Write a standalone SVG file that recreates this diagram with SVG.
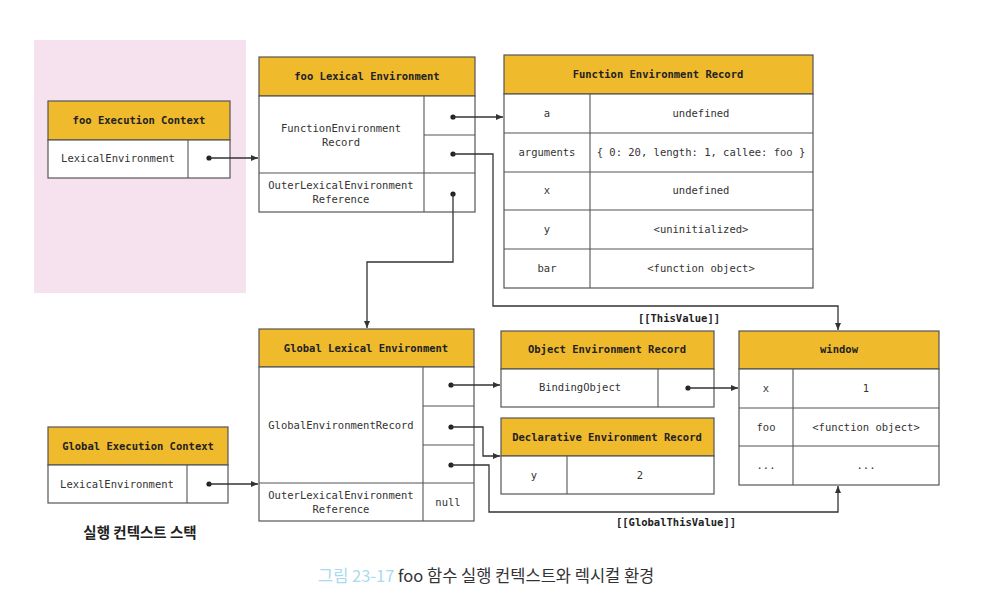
<svg xmlns="http://www.w3.org/2000/svg" width="986" height="604" viewBox="0 0 986 604">
<defs>
<marker id="ah" markerWidth="8" markerHeight="8" refX="7" refY="4" orient="auto" markerUnits="userSpaceOnUse">
<path d="M0,1 L7,4 L0,7 Z" fill="#333"/>
</marker>
<style>
.box{fill:#fff;stroke:#555;stroke-width:1.2}
.hd{fill:#f0ba2d;stroke:#555;stroke-width:1.2}
.ln{stroke:#555;stroke-width:1.1;fill:none}
.ht{font-family:"DejaVu Sans Mono","Liberation Mono",monospace;font-size:10.5px;font-weight:bold;fill:#222;text-anchor:middle}
.t{font-family:"DejaVu Sans Mono","Liberation Mono",monospace;font-size:10.5px;fill:#333;text-anchor:middle}
.c{stroke:#333;stroke-width:1.3;fill:none}
.dot{fill:#222}
</style>
</defs>
<rect width="986" height="604" fill="#fff"/>
<rect x="34" y="40" width="212" height="253" fill="#f6e2ee"/>

<g id="fooEC">
<rect class="hd" x="48" y="101" width="182" height="39"/>
<rect class="box" x="48" y="140" width="182" height="38"/>
<line class="ln" x1="188" y1="140" x2="188" y2="178"/>
<text class="ht" x="139" y="124">foo Execution Context</text>
<text class="t" x="118" y="162">LexicalEnvironment</text>
</g>

<g id="fooLE">
<rect class="hd" x="259" y="57" width="216" height="39"/>
<rect class="box" x="259" y="96" width="216" height="116"/>
<line class="ln" x1="259" y1="173" x2="475" y2="173"/>
<line class="ln" x1="424" y1="96" x2="424" y2="212"/>
<line class="ln" x1="424" y1="135" x2="475" y2="135"/>
<text class="ht" x="367" y="80">foo Lexical Environment</text>
<text class="t" x="341" y="132">FunctionEnvironment</text>
<text class="t" x="341" y="146">Record</text>
<text class="t" x="341" y="189">OuterLexicalEnvironment</text>
<text class="t" x="341" y="203">Reference</text>
</g>

<g id="fer">
<rect class="hd" x="504" y="55" width="309" height="39"/>
<rect class="box" x="504" y="94" width="309" height="194"/>
<line class="ln" x1="590" y1="94" x2="590" y2="288"/>
<line class="ln" x1="504" y1="133" x2="813" y2="133"/>
<line class="ln" x1="504" y1="172" x2="813" y2="172"/>
<line class="ln" x1="504" y1="210" x2="813" y2="210"/>
<line class="ln" x1="504" y1="249" x2="813" y2="249"/>
<text class="ht" x="658" y="78">Function Environment Record</text>
<text class="t" x="547" y="117">a</text>
<text class="t" x="701" y="117">undefined</text>
<text class="t" x="547" y="156">arguments</text>
<text class="t" x="701" y="156">{ 0: 20, length: 1, callee: foo }</text>
<text class="t" x="547" y="194">x</text>
<text class="t" x="701" y="194">undefined</text>
<text class="t" x="547" y="233">y</text>
<text class="t" x="701" y="233">&lt;uninitialized&gt;</text>
<text class="t" x="547" y="272">bar</text>
<text class="t" x="701" y="272">&lt;function object&gt;</text>
</g>

<g id="globalLE">
<rect class="hd" x="259" y="329" width="215" height="38"/>
<rect class="box" x="259" y="367" width="215" height="154"/>
<line class="ln" x1="259" y1="483" x2="474" y2="483"/>
<line class="ln" x1="423" y1="367" x2="423" y2="521"/>
<line class="ln" x1="423" y1="406" x2="474" y2="406"/>
<line class="ln" x1="423" y1="445" x2="474" y2="445"/>
<text class="ht" x="366" y="352">Global Lexical Environment</text>
<text class="t" x="341" y="429">GlobalEnvironmentRecord</text>
<text class="t" x="341" y="499">OuterLexicalEnvironment</text>
<text class="t" x="341" y="513">Reference</text>
<text class="t" x="448" y="506">null</text>
</g>

<g id="oer">
<rect class="hd" x="501" y="331" width="213" height="38"/>
<rect class="box" x="501" y="369" width="213" height="38"/>
<line class="ln" x1="658" y1="369" x2="658" y2="407"/>
<text class="ht" x="607" y="353">Object Environment Record</text>
<text class="t" x="580" y="391">BindingObject</text>
</g>

<g id="der">
<rect class="hd" x="501" y="418" width="213" height="38"/>
<rect class="box" x="501" y="456" width="213" height="38"/>
<line class="ln" x1="567" y1="456" x2="567" y2="494"/>
<text class="ht" x="607" y="441">Declarative Environment Record</text>
<text class="t" x="534" y="479">y</text>
<text class="t" x="640" y="479">2</text>
</g>

<g id="window">
<rect class="hd" x="739" y="331" width="200" height="38"/>
<rect class="box" x="739" y="369" width="200" height="116"/>
<line class="ln" x1="793" y1="369" x2="793" y2="485"/>
<line class="ln" x1="739" y1="408" x2="939" y2="408"/>
<line class="ln" x1="739" y1="446" x2="939" y2="446"/>
<text class="ht" x="839" y="353">window</text>
<text class="t" x="766" y="392">x</text>
<text class="t" x="866" y="392">1</text>
<text class="t" x="766" y="431">foo</text>
<text class="t" x="866" y="431">&lt;function object&gt;</text>
<text class="t" x="766" y="469">...</text>
<text class="t" x="866" y="469">...</text>
</g>

<g id="globalEC">
<rect class="hd" x="48" y="427" width="180" height="38"/>
<rect class="box" x="48" y="465" width="180" height="38"/>
<line class="ln" x1="187" y1="465" x2="187" y2="503"/>
<text class="ht" x="138" y="450">Global Execution Context</text>
<text class="t" x="117" y="488">LexicalEnvironment</text>
</g>

<g id="connectors">
<circle class="dot" cx="209" cy="158" r="2.6"/>
<path class="c" d="M209,158 H258" marker-end="url(#ah)"/>
<circle class="dot" cx="453" cy="117" r="2.6"/>
<path class="c" d="M453,117 H503" marker-end="url(#ah)"/>
<circle class="dot" cx="453" cy="154" r="2.6"/>
<path class="c" d="M453,154 H493 V306 H838 V330" marker-end="url(#ah)"/>
<circle class="dot" cx="453" cy="194" r="2.6"/>
<path class="c" d="M453,194 V262 H367 V328" marker-end="url(#ah)"/>
<circle class="dot" cx="209" cy="484" r="2.6"/>
<path class="c" d="M209,484 H258" marker-end="url(#ah)"/>
<circle class="dot" cx="451" cy="385" r="2.6"/>
<path class="c" d="M451,385 H500" marker-end="url(#ah)"/>
<circle class="dot" cx="451" cy="427" r="2.6"/>
<path class="c" d="M451,427 H483 V456 H500" marker-end="url(#ah)"/>
<circle class="dot" cx="451" cy="465" r="2.6"/>
<path class="c" d="M451,465 H489 V512 H838 V486" marker-end="url(#ah)"/>
<circle class="dot" cx="688" cy="388" r="2.6"/>
<path class="c" d="M688,388 H738" marker-end="url(#ah)"/>
<text class="ht" x="679" y="322">[[ThisValue]]</text>
<text class="ht" x="676" y="526">[[GlobalThisValue]]</text>
</g>

<text x="140" y="538" font-family="'Noto Sans CJK KR',sans-serif" font-size="14.5" font-weight="bold" fill="#222" text-anchor="middle">실행 컨텍스트 스택</text>
<text x="318" y="582" font-family="'Noto Sans CJK KR',sans-serif" font-size="16.5" fill="#333"><tspan fill="#a9dbee">그림 23-17</tspan> foo 함수 실행 컨텍스트와 렉시컬 환경</text>
</svg>
